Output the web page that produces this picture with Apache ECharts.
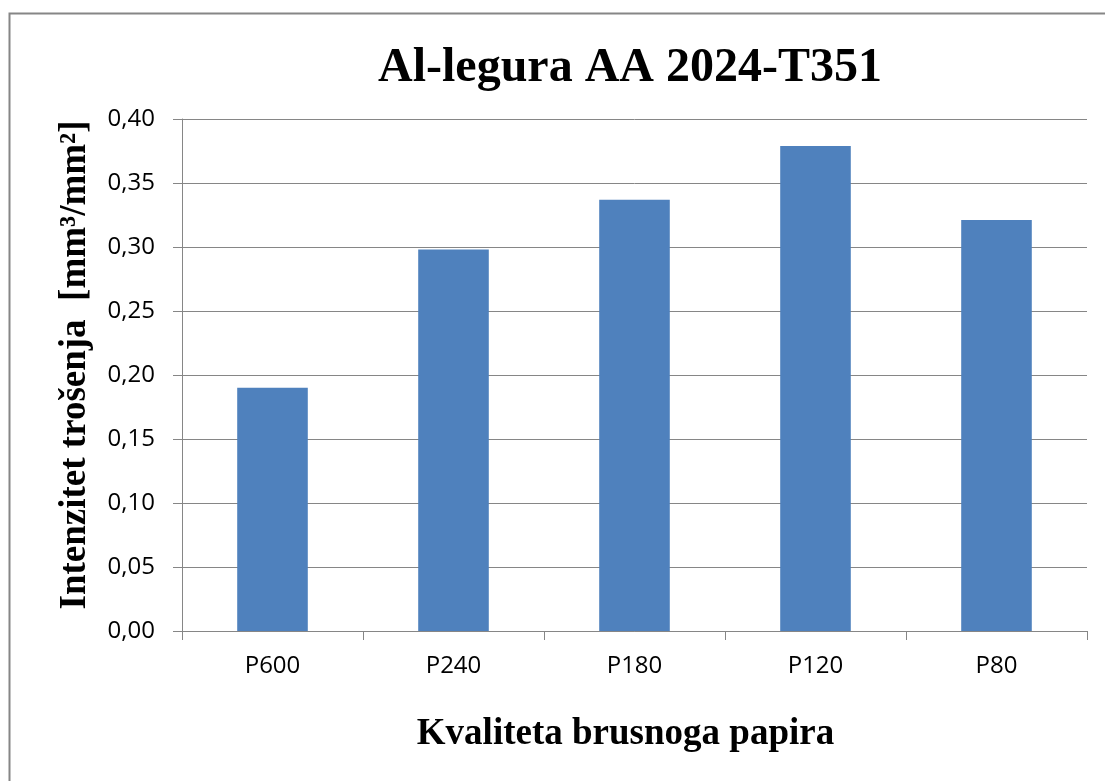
<!DOCTYPE html>
<html>
<head>
<meta charset="utf-8">
<script src="https://cdn.jsdelivr.net/npm/echarts@6/dist/echarts.min.js"></script>
<style>
  html, body { margin: 0; padding: 0; background: #fff; }
  #chart { width: 1105px; height: 781px; }
</style>
</head>
<body>
<div id="chart"></div>
<script>
// data
const categories = ['P600', 'P240', 'P180', 'P120', 'P80'];
const wearValues = [0.190, 0.298, 0.337, 0.379, 0.321];
const yMin = 0;
const yMax = 0.40;
const yStep = 0.05;

const gridColor = '#868686';
const serif = '"Liberation Serif", "Times New Roman", serif';
const sans = '"Open Sans", sans-serif';

const myChart = echarts.init(document.getElementById('chart'));

const option = {
  backgroundColor: '#fff',
  animation: false,
  title: {
    text: 'Al-legura AA 2024-T351',
    left: 625,
    top: 40,
    textAlign: 'center',
    textStyle: { fontFamily: serif, fontWeight: 'bold', fontSize: 48, color: '#000' }
  },
  // outer chart frame
  graphic: [{
    type: 'rect',
    shape: { x: 9.5, y: 13.5, width: 1300, height: 1000 },
    style: { fill: null, stroke: gridColor, lineWidth: 2 },
    silent: true
  }],
  grid: { left: 182, right: 18, top: 119, bottom: 150 },
  xAxis: {
    type: 'category',
    data: categories,
    name: 'Kvaliteta brusnoga papira',
    nameLocation: 'middle',
    nameGap: 85,
    nameTextStyle: { fontFamily: serif, fontWeight: 'bold', fontSize: 37, color: '#000', padding: [0, 18, 0, 0] },
    axisLine: { lineStyle: { color: gridColor, width: 1 } },
    axisTick: { show: true, length: 9, lineStyle: { color: gridColor } },
    axisLabel: { margin: 23, fontFamily: sans, fontSize: 24, color: '#000' },
    splitLine: { show: false }
  },
  yAxis: {
    type: 'value',
    min: yMin,
    max: yMax,
    interval: yStep,
    name: 'Intenzitet trošenja  [mm³/mm²]',
    nameLocation: 'middle',
    nameGap: 88,
    nameTextStyle: { fontFamily: serif, fontWeight: 'bold', fontSize: 37, color: '#000', padding: [0, 0, 0, 20] },
    axisLine: { show: true, lineStyle: { color: gridColor, width: 1 } },
    axisTick: { show: true, length: 9, lineStyle: { color: gridColor } },
    axisLabel: {
      margin: 27,
      fontFamily: sans,
      fontSize: 24,
      color: '#000',
      formatter: v => v.toFixed(2).replace('.', ',')
    },
    splitLine: { show: true, lineStyle: { color: gridColor, width: 1 } }
  },
  series: [{
    type: 'bar',
    data: wearValues,
    barWidth: '39%',
    itemStyle: { color: '#4F81BD' }
  }]
};

myChart.setOption(option);
</script>
</body>
</html>
